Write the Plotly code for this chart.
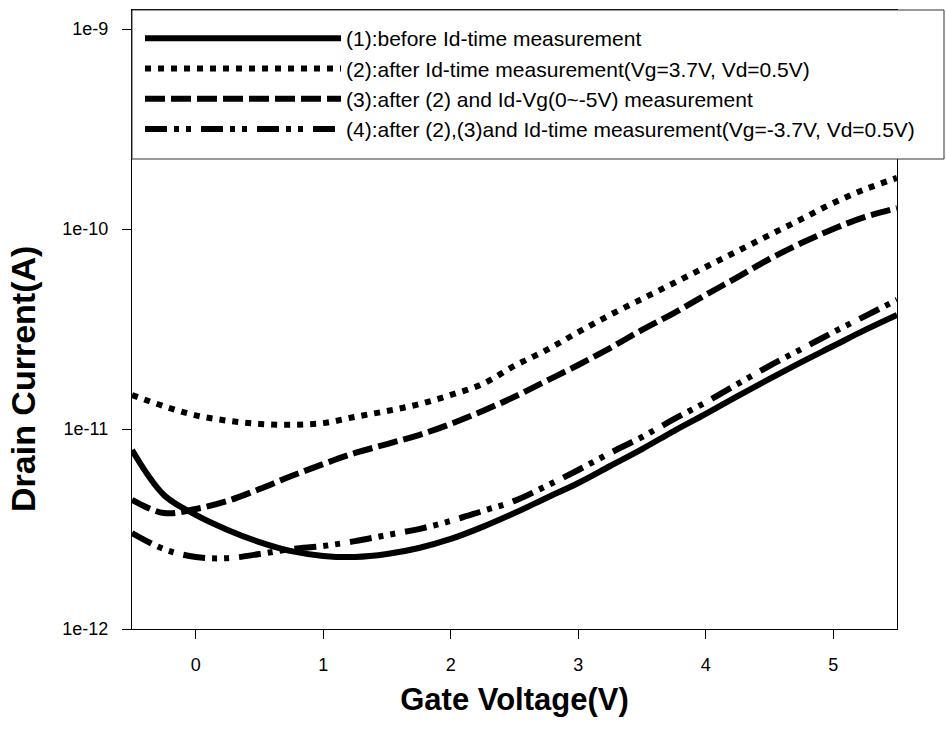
import plotly.graph_objects as go

# Gate voltage (V)
gate_voltage = [-0.5, -0.25, 0, 0.25, 0.5, 0.75, 1, 1.25, 1.5, 1.75, 2, 2.25, 2.5,
                2.75, 3, 3.25, 3.5, 3.75, 4, 4.25, 4.5, 4.75, 5, 5.25, 5.5]

# Drain current (A)
curve1_before = [7.85e-12, 4.68e-12, 3.72e-12, 3.13e-12, 2.72e-12, 2.45e-12, 2.32e-12,
                 2.29e-12, 2.37e-12, 2.54e-12, 2.82e-12, 3.24e-12, 3.80e-12, 4.52e-12,
                 5.37e-12, 6.53e-12, 7.94e-12, 9.77e-12, 1.19e-11, 1.46e-11, 1.78e-11,
                 2.16e-11, 2.60e-11, 3.13e-11, 3.72e-11]
curve2_after_pos = [1.48e-11, 1.30e-11, 1.17e-11, 1.10e-11, 1.06e-11, 1.05e-11, 1.07e-11,
                    1.15e-11, 1.23e-11, 1.33e-11, 1.48e-11, 1.68e-11, 2.07e-11, 2.48e-11,
                    3.05e-11, 3.72e-11, 4.47e-11, 5.37e-11, 6.46e-11, 7.76e-11, 9.33e-11,
                    1.12e-10, 1.35e-10, 1.58e-10, 1.80e-10]
curve3_after_idvg = [4.42e-12, 3.80e-12, 3.98e-12, 4.37e-12, 5.01e-12, 5.82e-12, 6.68e-12,
                     7.59e-12, 8.41e-12, 9.33e-12, 1.06e-11, 1.23e-11, 1.45e-11, 1.74e-11,
                     2.09e-11, 2.54e-11, 3.13e-11, 3.80e-11, 4.68e-11, 5.75e-11, 7.08e-11,
                     8.51e-11, 1.00e-10, 1.15e-10, 1.27e-10]
curve4_after_neg = [3.02e-12, 2.51e-12, 2.29e-12, 2.26e-12, 2.37e-12, 2.51e-12, 2.60e-12,
                    2.75e-12, 2.95e-12, 3.16e-12, 3.47e-12, 3.89e-12, 4.37e-12, 5.19e-12,
                    6.24e-12, 7.59e-12, 9.12e-12, 1.12e-11, 1.36e-11, 1.68e-11, 2.07e-11,
                    2.51e-11, 3.05e-11, 3.67e-11, 4.42e-11]

series_names = [
    "(1):before Id-time measurement",
    "(2):after Id-time measurement(Vg=3.7V, Vd=0.5V)",
    "(3):after (2) and Id-Vg(0~-5V) measurement",
    "(4):after (2),(3)and Id-time measurement(Vg=-3.7V, Vd=0.5V)",
]
series_values = [curve1_before, curve2_after_pos, curve3_after_idvg, curve4_after_neg]
series_dashes = ["solid", "6px,7px", "20px,6px", "22px,7px,5px,7px,5px,10px"]

x_tick_vals = [0, 1, 2, 3, 4, 5]
x_tick_text = ["0", "1", "2", "3", "4", "5"]
y_tick_vals = [1e-12, 1e-11, 1e-10, 1e-9]
y_tick_text = ["1e-12", "1e-11", "1e-10", "1e-9"]

FONT = "Liberation Sans, Arial, sans-serif"

# plot area in pixels: x 132..897, y 10..629
PW, PH = 765.0, 619.0

fig = go.Figure()
for name, vals, dash in zip(series_names, series_values, series_dashes):
    fig.add_trace(go.Scatter(
        x=gate_voltage, y=vals, name=name, mode="lines",
        line=dict(color="black", width=6, dash=dash, shape="spline", smoothing=1.0),
    ))

fig.update_layout(
    width=946, height=729,
    margin=dict(l=132, r=49, t=10, b=100),
    paper_bgcolor="white", plot_bgcolor="white",
    font=dict(family=FONT, color="black"),
    showlegend=True,
    legend=dict(
        x=(140 - 132) / PW, y=(629 - 18) / PH, xanchor="left", yanchor="top",
        xref="paper", yref="paper",
        bgcolor="rgba(0,0,0,0)", borderwidth=0,
        font=dict(family=FONT, size=21, color="black"),
        itemwidth=196, traceorder="normal",
    ),
    shapes=[dict(
        type="rect", xref="paper", yref="paper",
        x0=0, x1=(944 - 132) / PW, y0=(629 - 159) / PH, y1=1.0,
        line=dict(color="#333333", width=1), fillcolor="white", layer="above",
    )],
    xaxis=dict(
        range=[-0.5, 5.5], tickvals=x_tick_vals, ticktext=x_tick_text,
        ticks="outside", ticklen=9, tickwidth=1, tickcolor="black",
        showline=True, linecolor="black", linewidth=1.2, mirror=True,
        showgrid=False, zeroline=False, ticklabelstandoff=10,
        tickfont=dict(family=FONT, size=18, color="black"),
        title=dict(text="Gate Voltage(V)", standoff=14,
                   font=dict(family=FONT, size=31, color="black", weight="bold")),
    ),
    yaxis=dict(
        type="log", range=[-12, -8.905], tickvals=y_tick_vals, ticktext=y_tick_text,
        ticks="outside", ticklen=9, tickwidth=1, tickcolor="black",
        showline=True, linecolor="black", linewidth=1.2, mirror=True,
        showgrid=False, zeroline=False, ticklabelstandoff=10,
        tickfont=dict(family=FONT, size=18, color="black"),
    ),
    annotations=[dict(
        text="Drain Current(A)", xref="paper", yref="paper",
        x=(23 - 132) / PW, y=(629 - 379) / PH, xanchor="center", yanchor="middle",
        textangle=-90, showarrow=False,
        font=dict(family=FONT, size=34, color="black", weight="bold"),
    )],
)

fig.write_html("out.html")
